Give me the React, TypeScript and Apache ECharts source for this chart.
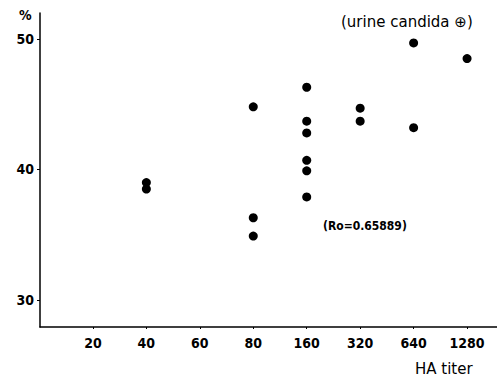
import React, { useEffect, useRef } from "react";
import * as echarts from "echarts";

const titerLabels = ["20", "40", "60", "80", "160", "320", "640", "1280"];
const yTickValues = [30, 40, 50];
// [category index, percent]
const points: [number, number][] = [
  [1, 39.0], [1, 38.5],
  [3, 44.8], [3, 36.3], [3, 34.9],
  [4, 46.3], [4, 43.7], [4, 42.8], [4, 40.7], [4, 39.9], [4, 37.9],
  [5, 44.7], [5, 43.7],
  [6, 49.7], [6, 43.2],
  [7, 48.5],
];

const condensed = "'Liberation Sans Narrow', 'DejaVu Sans Condensed', 'Liberation Sans', sans-serif";
const plain = "'DejaVu Sans', 'Liberation Sans', sans-serif";

export default function App() {
  const ref = useRef<HTMLDivElement>(null);
  useEffect(() => {
    if (!ref.current) return;
    const chart = echarts.init(ref.current, null, { renderer: "svg" });
    chart.setOption({
      animation: false,
      backgroundColor: "#ffffff",
      grid: { left: 40, right: 0, top: 13, bottom: 52 },
      xAxis: {
        type: "value",
        min: -0.99,
        max: 7.56,
        splitLine: { show: false },
        axisLine: { show: true, onZero: false, lineStyle: { color: "#000", width: 1.5 } },
        axisTick: { show: true, length: 2, customValues: titerLabels.map((_, i) => i), lineStyle: { color: "#000" } },
        axisLabel: {
          customValues: titerLabels.map((_, i) => i),
          formatter: (v: number) => titerLabels[Math.round(v)] ?? "",
          color: "#000",
          fontSize: 14,
          fontWeight: "bold",
          fontFamily: condensed,
          margin: 9,
        },
      },
      yAxis: {
        type: "value",
        min: 27.93,
        max: 51.99,
        splitLine: { show: false },
        axisLine: { show: true, onZero: false, lineStyle: { color: "#000", width: 1.5 } },
        axisTick: { show: true, length: 3, customValues: yTickValues, lineStyle: { color: "#000" } },
        axisLabel: {
          customValues: yTickValues,
          color: "#000",
          fontSize: 14,
          fontWeight: "bold",
          fontFamily: condensed,
          margin: 6,
        },
      },
      series: [
        {
          type: "scatter",
          data: points,
          symbol: "circle",
          symbolSize: 9,
          itemStyle: { color: "#000", opacity: 1 },
        },
      ],
      graphic: [
        {
          type: "text",
          left: 19,
          top: 8,
          style: { text: "%", fontSize: 14, fontWeight: "bold", fontFamily: condensed, fill: "#000" },
        },
        {
          type: "text",
          left: 341,
          top: 14,
          style: { text: "(urine candida \u2295)", fontSize: 15, fontFamily: plain, fill: "#000" },
        },
        {
          type: "text",
          left: 323,
          top: 220,
          style: { text: "(Ro=0.65889)", fontSize: 12, fontWeight: "bold", fontFamily: condensed, fill: "#000" },
        },
        {
          type: "text",
          left: 415,
          top: 361,
          style: { text: "HA titer", fontSize: 15, fontFamily: plain, fill: "#000" },
        },
      ],
    });
    return () => chart.dispose();
  }, []);
  return (
    <div
      ref={ref}
      style={{ position: "fixed", left: 0, top: 0, width: 497, height: 379 }}
    />
  );
}
